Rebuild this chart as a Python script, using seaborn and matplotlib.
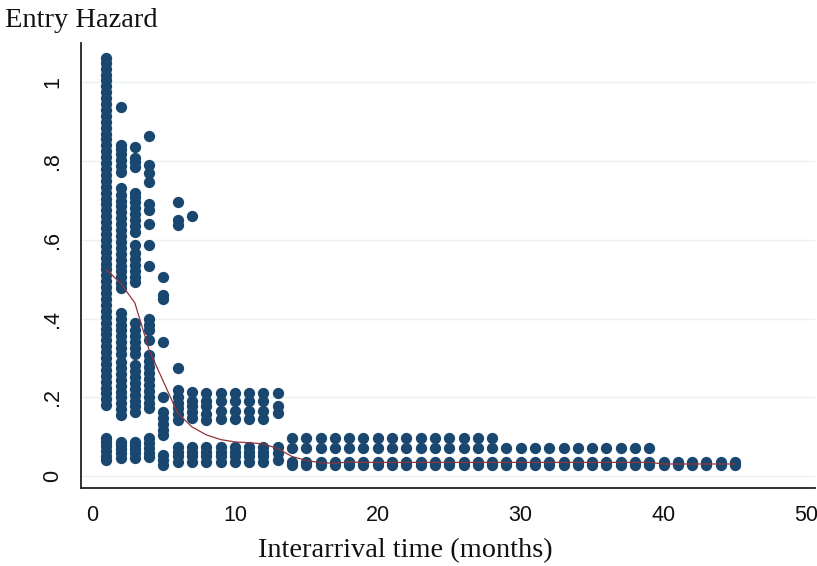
import matplotlib
matplotlib.use("Agg")
import matplotlib.pyplot as plt
import seaborn as sns
import pandas as pd

# ---- data ----
months = list(range(1, 46))

# entry hazard observations for each interarrival month (1..45)
hazard_by_month = [
    # 1
    [0.04, 0.052, 0.064, 0.076, 0.088, 0.096,
     0.18, 0.195, 0.21, 0.225, 0.24, 0.255, 0.27, 0.285, 0.30, 0.315, 0.33, 0.345,
     0.36, 0.375, 0.39, 0.405, 0.42, 0.435, 0.45, 0.465, 0.48, 0.495, 0.51, 0.525,
     0.54, 0.555, 0.57, 0.585, 0.60, 0.615, 0.63, 0.645, 0.66, 0.675, 0.69, 0.705,
     0.72, 0.735, 0.75, 0.765, 0.78, 0.795, 0.81, 0.825, 0.84, 0.855, 0.87, 0.885,
     0.90, 0.915, 0.93, 0.945, 0.96, 0.975, 0.99, 1.005, 1.02, 1.035, 1.05, 1.063],
    # 2
    [0.046, 0.058, 0.07, 0.08, 0.088,
     0.155, 0.17, 0.185, 0.20, 0.215, 0.23, 0.245, 0.26, 0.275, 0.29, 0.31, 0.325,
     0.34, 0.355, 0.37, 0.385, 0.40, 0.414,
     0.477, 0.49, 0.505, 0.52, 0.535, 0.55, 0.565, 0.58, 0.595, 0.61, 0.625, 0.64,
     0.655, 0.67, 0.685, 0.70, 0.715, 0.731,
     0.772, 0.787, 0.802, 0.817, 0.83, 0.84, 0.937],
    # 3
    [0.046, 0.058, 0.07, 0.08, 0.088,
     0.162, 0.177, 0.192, 0.207, 0.222, 0.237, 0.252, 0.267, 0.282, 0.31, 0.325,
     0.34, 0.355, 0.37, 0.388,
     0.492, 0.507, 0.522, 0.537, 0.552, 0.567, 0.586,
     0.62, 0.635, 0.65, 0.665, 0.68, 0.695, 0.708, 0.718,
     0.784, 0.797, 0.807, 0.835],
    # 4
    [0.048, 0.06, 0.072, 0.084, 0.096,
     0.172, 0.187, 0.202, 0.217, 0.232, 0.247, 0.262, 0.277, 0.292, 0.307,
     0.345, 0.37, 0.385, 0.40,
     0.535, 0.586, 0.64, 0.675, 0.69, 0.746, 0.77, 0.79, 0.865],
    # 5
    [0.028, 0.04, 0.053, 0.104, 0.118, 0.133, 0.148, 0.163, 0.20, 0.342, 0.45, 0.46, 0.505],
    # 6
    [0.036, 0.05, 0.062, 0.074, 0.142, 0.157, 0.172, 0.187, 0.202, 0.218, 0.274, 0.637, 0.65, 0.695],
    # 7
    [0.036, 0.05, 0.062, 0.074, 0.147, 0.162, 0.177, 0.192, 0.213, 0.66],
    # 8
    [0.036, 0.05, 0.062, 0.074, 0.142, 0.157, 0.177, 0.192, 0.21],
    # 9
    [0.036, 0.05, 0.062, 0.074, 0.145, 0.165, 0.19, 0.21],
    # 10
    [0.036, 0.05, 0.062, 0.074, 0.145, 0.165, 0.19, 0.21],
    # 11
    [0.036, 0.05, 0.062, 0.074, 0.145, 0.165, 0.19, 0.21],
    # 12
    [0.036, 0.05, 0.062, 0.074, 0.145, 0.165, 0.19, 0.21],
    # 13
    [0.04, 0.058, 0.074, 0.16, 0.178, 0.21],
    # 14 .. 28
    [0.028, 0.036, 0.071, 0.097], [0.028, 0.036, 0.071, 0.097], [0.028, 0.036, 0.071, 0.097],
    [0.028, 0.036, 0.071, 0.097], [0.028, 0.036, 0.071, 0.097], [0.028, 0.036, 0.071, 0.097],
    [0.028, 0.036, 0.071, 0.097], [0.028, 0.036, 0.071, 0.097], [0.028, 0.036, 0.071, 0.097],
    [0.028, 0.036, 0.071, 0.097], [0.028, 0.036, 0.071, 0.097], [0.028, 0.036, 0.071, 0.097],
    [0.028, 0.036, 0.071, 0.097], [0.028, 0.036, 0.071, 0.097], [0.028, 0.036, 0.071, 0.097],
    # 29 .. 39
    [0.028, 0.036, 0.071], [0.028, 0.036, 0.071], [0.028, 0.036, 0.071], [0.028, 0.036, 0.071],
    [0.028, 0.036, 0.071], [0.028, 0.036, 0.071], [0.028, 0.036, 0.071], [0.028, 0.036, 0.071],
    [0.028, 0.036, 0.071], [0.028, 0.036, 0.071], [0.028, 0.036, 0.071],
    # 40 .. 45
    [0.028, 0.036], [0.028, 0.036], [0.028, 0.036], [0.028, 0.036], [0.028, 0.036], [0.028, 0.036],
]

# smoothed hazard (red curve) at each month
smooth_hazard = [0.525, 0.49, 0.44, 0.32, 0.24, 0.16, 0.125, 0.105, 0.093, 0.087,
                 0.085, 0.082, 0.07, 0.05, 0.04, 0.034, 0.033, 0.036, 0.035, 0.035,
                 0.035, 0.035, 0.035, 0.035, 0.035, 0.035, 0.035, 0.035, 0.035, 0.035,
                 0.035, 0.035, 0.035, 0.035, 0.035, 0.035, 0.035, 0.035, 0.035, 0.031,
                 0.031, 0.031, 0.031, 0.031, 0.031]

x_ticks = [0, 10, 20, 30, 40, 50]
y_ticks = [0, 0.2, 0.4, 0.6, 0.8, 1.0]
y_tick_labels = ["0", ".2", ".4", ".6", ".8", "1"]

# ---- build tables ----
rows = [(m, h) for m, hs in zip(months, hazard_by_month) for h in hs]
df = pd.DataFrame(rows, columns=["months", "hazard"])
fit = pd.DataFrame({"months": months, "fit": smooth_hazard})

sns.set_style("white")
plt.rcParams["font.family"] = ["Liberation Sans", "DejaVu Sans"]

fig = plt.figure(figsize=(8.17, 5.66), dpi=100)
ax = fig.add_axes([81 / 817, 1 - 488 / 566, (815 - 81) / 817, (488 - 43) / 566])

for yt in y_ticks:
    ax.axhline(yt, color="#EAF2F3", lw=1.0, zorder=0)

sns.scatterplot(data=df, x="months", y="hazard", ax=ax, color="#1A476F",
                s=66, linewidth=0, marker="o", zorder=3)
sns.lineplot(data=fit, x="months", y="fit", ax=ax, color="#90353B",
             lw=0.9, zorder=4)

ax.set_xlim(-0.77, 50.6)
ax.set_ylim(-0.03, 1.10)
ax.set_xticks(x_ticks)
ax.set_yticks(y_ticks)
ax.set_yticklabels(y_tick_labels, rotation=90, va="center")
ax.tick_params(axis="both", direction="out", length=7, width=1.3,
               color="#222222", labelsize=15.5, labelcolor="#111111")
ax.tick_params(axis="y", pad=6)
ax.tick_params(axis="x", pad=5)
ax.set_xlabel("")
ax.set_ylabel("")
for s in ["top", "right"]:
    ax.spines[s].set_visible(False)
for s in ["left", "bottom"]:
    ax.spines[s].set_color("#222222")
    ax.spines[s].set_linewidth(1.3)

fig.text(5 / 817, 1 - 27 / 566, "Entry Hazard", family=["Liberation Serif", "DejaVu Serif"],
         fontsize=20.5, ha="left", va="baseline", color="#111111")
fig.text(405 / 817, 1 - 557 / 566, "Interarrival time (months)",
         family=["Liberation Serif", "DejaVu Serif"], fontsize=20.4,
         ha="center", va="baseline", color="#111111")

fig.savefig("out.png", dpi=100, facecolor="white")
